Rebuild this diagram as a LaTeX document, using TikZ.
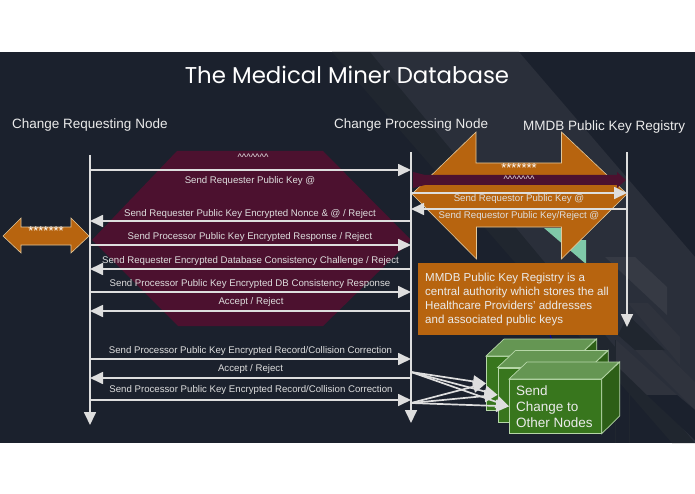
\documentclass[tikz,border=0pt]{standalone}
\usepackage{fontspec}
\usetikzlibrary{arrows.meta}
\setmainfont{Liberation Sans}
\newfontfamily\titlefont{Poppins}
\definecolor{bgdark}{HTML}{1B212D}
\definecolor{bandA}{HTML}{20262F}
\definecolor{bandB}{HTML}{2A2F3A}
\definecolor{bandC}{HTML}{363A44}
\definecolor{bandD}{HTML}{2F333D}
\definecolor{lineGray}{HTML}{DEDEDE}
\definecolor{maroon}{HTML}{4C112F}
\definecolor{orangeF}{HTML}{B7640F}
\definecolor{orangeE}{HTML}{E2C79A}
\definecolor{tealF}{HTML}{7FC9A8}
\definecolor{gFront}{HTML}{38761D}
\definecolor{gTop}{HTML}{659653}
\definecolor{gSide}{HTML}{2D5F17}
\definecolor{gEdge}{HTML}{B6D7A8}
\newcommand{\carets}{\textasciicircum\textasciicircum\textasciicircum\textasciicircum\textasciicircum\textasciicircum\textasciicircum}
\tikzset{
  msg/.style={line width=1.7pt,draw=lineGray,-{Triangle[length=13pt,width=12pt,fill=lineGray]}},
  msglabel/.style={text=lineGray,font=\fontsize{9.65}{11}\selectfont,inner sep=0pt,yshift=-0.7pt},
  head/.style={text=white!92!black,font=\fontsize{13.5}{16}\selectfont,inner sep=0pt,anchor=west,yshift=-1.5pt},
  star/.style={text=white,font=\fontsize{13}{14}\selectfont,inner sep=0pt},
  caretlabel/.style={text=white!92!black,font=\fontsize{9.4}{10}\selectfont,inner sep=0pt},
  bigarrow/.style={fill=orangeF,draw=orangeE,line width=0.6pt},
  cubefront/.style={fill=gFront,draw=gEdge,line width=0.7pt,minimum width=92pt,minimum height=54pt,inner sep=0pt,anchor=north west},
  cubetop/.style={fill=gTop,draw=gEdge,line width=0.7pt},
  cubeside/.style={fill=gSide,draw=gEdge,line width=0.7pt},
}
\newcommand{\cubefaces}[1]{%
  \path[cubetop] (#1.north west) -- ++(18,-17) -- ++(92,0) -- (#1.north east) -- cycle;
  \path[cubeside] (#1.north east) -- ++(18,-17) -- ++(0,54) -- (#1.south east) -- cycle;
}
\begin{document}
\begin{tikzpicture}[x=1pt,y=-1pt]
\useasboundingbox (0,0) rectangle (695,494);
% slide background
\fill[white] (0,0) rectangle (695,494);
\fill[bgdark] (0,52) rectangle (695,443);
\fill[bandA] (332,52) -- (370,52) -- (695,430) -- (695,443) -- (672,443) -- cycle;
\fill[bandB] (370,52) -- (519,52) -- (695,257) -- (695,443) -- cycle;
\fill[bandA] (628,315) -- (665,350) -- (635,350) -- (618,335) -- cycle;
\fill[bandC] (605,257) -- (635,257) -- (667,287) -- (667,315) -- cycle;
\fill[bandD] (628,303) -- (648,303) -- (680,337) -- (680,365) -- cycle;
\fill[bandD] (635,350) -- (662,350) -- (695,382) -- (695,410) -- cycle;
\fill[bandD] (616,340) -- (677,395) -- (647,395) -- (616,365) -- cycle;
\fill[bgdark] (647,395) -- (677,395) -- (695,410) -- (695,440) -- cycle;
\fill[bandA] (615,340) rectangle (616,443);
\fill[bandA] (629,383) rectangle (630,443);
% teal fragment behind the registry arrow
\fill[tealF] (544,228) -- (575,228) -- (575,240) -- (586,240) -- (586,264) -- cycle;
\draw[blue!70!black,line width=0.8pt] (550,335) -- (552,340);
% maroon hexagon
\fill[maroon] (177,151) -- (323,151) -- (411,240) -- (323,326) -- (178,326) -- (92,240) -- cycle;
% big orange double arrows
\draw[bigarrow] (412,194) -- (476,132) -- (476,163) -- (561.5,163) -- (561.5,132) -- (627,194) -- (561.5,259) -- (561.5,227) -- (476.5,227) -- (476.5,259) -- cycle;
\draw[bigarrow] (3,236) -- (21,218) -- (21,227) -- (71,227) -- (71,218) -- (89,236) -- (71,253) -- (71,245) -- (21,245) -- (21,253) -- cycle;
% maroon registry arrow
\fill[maroon] (413,172) -- (425,175) -- (617,175) -- (617,172) -- (626,180) -- (617,188) -- (617,185) -- (425,185) -- (413,188) -- cycle;
% lifelines
\coordinate (Atop) at (90,155);
\coordinate (Abot) at (90,425);
\coordinate (Btop) at (411,152);
\coordinate (Bbot) at (411,423);
\coordinate (Ctop) at (627,152);
\coordinate (Cbot) at (627,327);
\draw[msg] (Atop) -- (Abot);
\draw[msg] (Btop) -- (Bbot);
\draw[msg] (Ctop) -- (Cbot);
% messages
\foreach \nm/\yy in {m1/170,m2/221,m3/245,m4/269,m5/292,m6/311,m7/359,m8/378,m9/400,r1/193,r2/209}{
  \coordinate (\nm A) at (90,\yy);
  \coordinate (\nm B) at (411,\yy);
  \coordinate (\nm C) at (627,\yy);
}
\draw[msg] (m1A) -- (m1B);
\draw[msg] (m2B) -- (m2A);
\draw[msg] (m3A) -- (m3B);
\draw[msg] (m4B) -- (m4A);
\draw[msg] (m5A) -- (m5B);
\draw[msg] (m6B) -- (m6A);
\draw[msg] (m7A) -- (m7B);
\draw[msg] (m8B) -- (m8A);
\draw[msg] (m9A) -- (m9B);
\draw[msg] (r1B) -- (r1C);
\draw[msg] (r2C) -- (r2B);
% message labels
\node[caretlabel] (s1) at (253,157) {\carets};
\node[msglabel] (l1) at (250,180) {Send Requester Public Key @};
\node[msglabel] (l2) at (250,213) {Send Requester Public Key Encrypted Nonce \& @ / Reject};
\node[msglabel] (l3) at (250,236.5) {Send Processor Public Key Encrypted Response / Reject};
\node[msglabel] (l4) at (250.5,260) {Send Requester Encrypted Database Consistency Challenge / Reject};
\node[msglabel] (l5) at (250,283.5) {Send Processor Public Key Encrypted DB Consistency Response};
\node[msglabel] (l6) at (251,301.5) {Accept / Reject};
\node[msglabel] (l7) at (250.5,350.5) {Send Processor Public Key Encrypted Record/Collision Correction};
\node[msglabel] (l8) at (250.5,368.5) {Accept / Reject};
\node[msglabel] (l9) at (251,389) {Send Processor Public Key Encrypted Record/Collision Correction};
\node[msglabel] (l10) at (519,198.5) {Send Requestor Public Key @};
\node[msglabel] (l11) at (519,215.5) {Send Requestor Public Key/Reject @};
\node[star] (s2) at (519,168) {*******};
\node[caretlabel] (s3) at (519,179.5) {\carets};
\node[star] (s4) at (46,231) {*******};
% title and headers
\node[text=white,font=\titlefont\fontsize{22.85}{26}\selectfont,inner sep=0pt] (title) at (347,75) {The Medical Miner Database};
\node[head] (h1) at (12,124) {Change Requesting Node};
\node[head] (h2) at (334,124) {Change Processing Node};
\node[head] (h3) at (523,126) {MMDB Public Key Registry};
% explanation box
\node[fill=orangeF,minimum width=200pt,minimum height=72pt,inner sep=0pt,anchor=north west] (note) at (418,263) {};
\node[text=white!92!black,font=\fontsize{11.55}{14}\selectfont,inner sep=0pt,anchor=west,align=left] (notetext) at (425,299.5) {MMDB Public Key Registry is a\\central authority which stores the all\\Healthcare Providers’ addresses\\and associated public keys};
% green cubes
\node[cubefront] (b1) at (486,356) {};
\cubefaces{b1}
\node[cubefront] (b2) at (497.5,367.5) {};
\cubefaces{b2}
\node[cubefront] (b3) at (509,379) {};
\cubefaces{b3}
\node[text=white!92!black,font=\fontsize{13.5}{16}\selectfont,inner sep=0pt,anchor=west,align=left] (cubetext) at (516,407) {Send\\Change to\\Other Nodes};
% arrows to cubes
\coordinate (f1) at (411,372);
\coordinate (f2) at (411,403);
\foreach \src in {f1,f2}{
  \foreach \dst in {b1,b2,b3}{
    \draw[msg] (\src) -- (\dst.west);
  }
}
\end{tikzpicture}
\end{document}
